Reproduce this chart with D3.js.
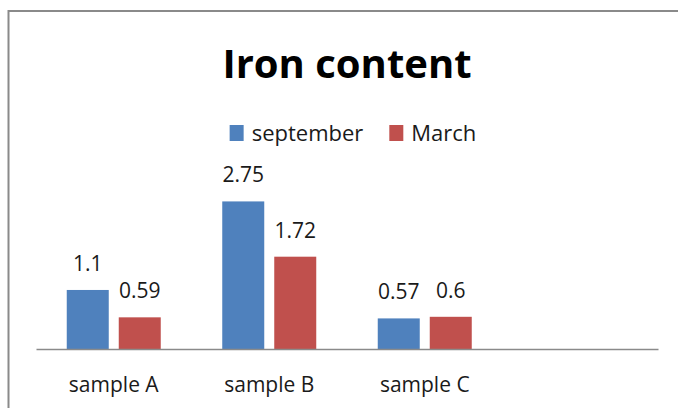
<!DOCTYPE html>
<html>
<head>
<meta charset="utf-8">
<script src="https://cdn.jsdelivr.net/npm/d3@7"></script>
<style>
	body { margin: 0; background: #fff; }
	text { font-family: 'Open Sans', sans-serif; fill: #1a1a1a; }
</style>
</head>
<body>
<div id="chart-area"></div>
<script>
let categories = ['sample A', 'sample B', 'sample C', '']
let seriesNames = ['september', 'March']
let september = [1.1, 2.75, 0.57, null]
let march = [0.59, 1.72, 0.6, null]
let colors = ['#4F81BD', '#C0504D']

let width = 678
let height = 408
let margin = { top: 188, left: 36, right: 20, bottom: 59 }
let plotWidth = 658 - margin.left
let plotHeight = height - margin.bottom - margin.top

let svg = d3.select('#chart-area').append('svg')
	.attr('width', width)
	.attr('height', height)

// chart border
svg.append('rect')
	.attr('x', 8.5)
	.attr('y', 11)
	.attr('width', 700)
	.attr('height', 450)
	.attr('fill', 'none')
	.attr('stroke', '#8a8a8a')
	.attr('stroke-width', 2)

svg.append('text')
	.attr('x', 347)
	.attr('y', 78)
	.attr('text-anchor', 'middle')
	.style('font-size', '40px')
	.style('font-weight', 'bold')
	.style('fill', '#000')
	.text('Iron content')

let graphGroup = svg.append('g')
	.attr('transform', 'translate(' + margin.left + ', ' + margin.top + ')')

let x = d3.scaleBand()
	.domain(categories.map((d, i) => i))
	.range([0, plotWidth])

let y = d3.scaleLinear()
	.domain([0, 3])
	.range([plotHeight, 0])

let barWidth = 42
let barGap = 10
let groupWidth = barWidth * 2 + barGap

let rows = []
categories.forEach((c, i) => {
	[september, march].forEach((s, j) => {
		if (s[i] != null) rows.push({ cat: i, series: j, value: s[i] })
	})
})

let barX = (d) => x(d.cat) + (x.bandwidth() - groupWidth) / 2 + d.series * (barWidth + barGap)

graphGroup.selectAll('rect.bar')
	.data(rows)
	.enter()
	.append('rect')
		.attr('class', 'bar')
		.attr('x', barX)
		.attr('y', (d) => y(d.value))
		.attr('width', barWidth)
		.attr('height', (d) => plotHeight - y(d.value))
		.attr('fill', (d) => colors[d.series])

graphGroup.selectAll('text.label')
	.data(rows)
	.enter()
	.append('text')
		.attr('class', 'label')
		.attr('x', (d) => barX(d) + barWidth / 2)
		.attr('y', (d) => y(d.value) - 19)
		.attr('text-anchor', 'middle')
		.style('font-size', '21px')
		.text((d) => d.value)

// X AXIS
let xAxisGroup = graphGroup.append('g')
	.attr('transform', 'translate(0, ' + plotHeight + ')')
	.call(d3.axisBottom(x).tickSize(0).tickPadding(0).tickFormat((i) => categories[i]))

xAxisGroup.select('.domain')
	.attr('stroke', '#8a8a8a')
	.attr('stroke-width', 1.5)

xAxisGroup.selectAll('.tick text')
	.attr('y', 43)
	.attr('dy', null)
	.style('font-size', '21px')
	.style('font-family', "'Open Sans', sans-serif")
	.attr('fill', '#1a1a1a')

// LEGEND
let legend = svg.append('g')
let offset = 0
seriesNames.forEach((name, i) => {
	let item = legend.append('g').attr('transform', 'translate(' + offset + ', 0)')
	item.append('rect')
		.attr('x', 0)
		.attr('y', -16)
		.attr('width', 14)
		.attr('height', 16)
		.attr('fill', colors[i])
	let t = item.append('text')
		.attr('x', 22)
		.attr('y', 0)
		.style('font-size', '22px')
		.text(name)
	offset += 22 + t.node().getComputedTextLength() + 26
})
let legendWidth = offset - 26
legend.attr('transform', 'translate(' + (353 - legendWidth / 2) + ', 141)')
</script>
</body>
</html>
